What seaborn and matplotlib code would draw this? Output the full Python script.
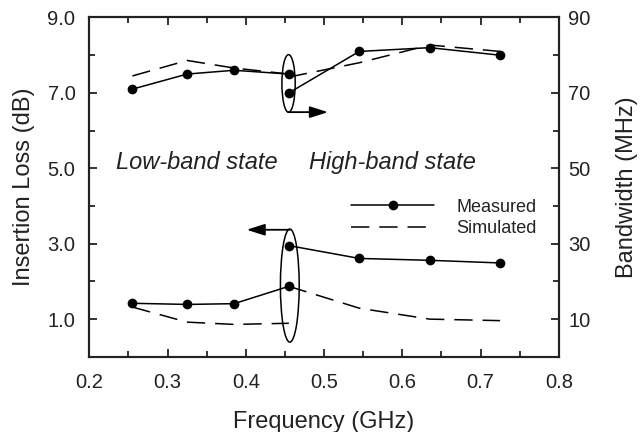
import numpy as np
import pandas as pd
import seaborn as sns
import matplotlib
matplotlib.use("Agg")
import matplotlib.pyplot as plt
from matplotlib.patches import Ellipse
from matplotlib.ticker import MultipleLocator
from matplotlib.lines import Line2D

# ---------------- data ----------------
freq_low = [0.255, 0.325, 0.385, 0.455]
freq_high = [0.455, 0.545, 0.635, 0.725]

# Insertion loss (dB), left axis
il_meas_low = [1.42, 1.39, 1.41, 1.87]
il_meas_high = [2.95, 2.61, 2.56, 2.49]
il_sim_low = [1.32, 0.92, 0.86, 0.89]
il_sim_high = [1.87, 1.29, 1.00, 0.96]

# Bandwidth (MHz), right axis
bw_meas_low = [71, 75, 76, 75]
bw_meas_high = [70, 81, 82, 80]
bw_sim_low = [74.5, 78.6, 76.6, 75.0]
bw_sim_high = [74.2, 78.0, 82.7, 81.0]

x_ticks = [0.2, 0.3, 0.4, 0.5, 0.6, 0.7, 0.8]
il_ticks = [1.0, 3.0, 5.0, 7.0, 9.0]
bw_ticks = [10, 30, 50, 70, 90]

# ---------------- style ----------------
sns.set_style("ticks")
plt.rcParams['font.family'] = ['Liberation Sans', 'DejaVu Sans']
plt.rcParams['axes.linewidth'] = 1.5

fig = plt.figure(figsize=(6.43, 4.32), dpi=100)
ax = fig.add_axes([0.139, 0.174, 0.730, 0.7855])
ax2 = ax.twinx()

LW = 1.1
DASH = (0, (12, 6.5))
TXT = "#222222"

def draw(axis, xs, ys, meas):
    df = pd.DataFrame({"x": xs, "y": ys})
    if meas:
        sns.lineplot(data=df, x="x", y="y", ax=axis, color="black", lw=LW,
                     marker="o", markersize=7, markeredgewidth=0, sort=False,
                     estimator=None)
    else:
        sns.lineplot(data=df, x="x", y="y", ax=axis, color="black", lw=LW,
                     linestyle=DASH, sort=False, estimator=None)

draw(ax, freq_low, il_meas_low, True)
draw(ax, freq_high, il_meas_high, True)
draw(ax, freq_low, il_sim_low, False)
draw(ax, freq_high, il_sim_high, False)

draw(ax2, freq_low, bw_meas_low, True)
draw(ax2, freq_high, bw_meas_high, True)
draw(ax2, freq_low, bw_sim_low, False)
draw(ax2, freq_high, bw_sim_high, False)

# axes ranges / ticks
ax.set_xlim(0.2, 0.8)
ax.set_ylim(0, 9)
ax2.set_ylim(0, 90)
ax.set_xticks(x_ticks)
ax.set_xticklabels([f"{v:.1f}" for v in x_ticks])
ax.xaxis.set_minor_locator(MultipleLocator(0.05))
ax.set_yticks(il_ticks)
ax.set_yticklabels([f"{v:.1f}" for v in il_ticks])
ax.yaxis.set_minor_locator(MultipleLocator(1.0))
ax2.set_yticks(bw_ticks)
ax2.set_yticklabels([str(v) for v in bw_ticks])
ax2.yaxis.set_minor_locator(MultipleLocator(10))

for a in (ax, ax2):
    for s in a.spines.values():
        s.set_visible(True)
        s.set_linewidth(1.5)
        s.set_color(TXT)

ax.tick_params(axis="both", which="both", direction="in", width=1.3, top=True,
               colors=TXT, labelcolor=TXT)
ax.tick_params(axis="both", which="major", length=6, labelsize=14.5)
ax.tick_params(axis="both", which="minor", length=4.5)
ax.tick_params(axis="x", which="major", pad=12)
ax.tick_params(axis="y", which="major", pad=10)
ax.tick_params(axis="x", which="both", top=True, labeltop=False)
ax2.tick_params(axis="y", which="both", direction="in", width=1.3,
                colors=TXT, labelcolor=TXT)
ax2.tick_params(axis="y", which="major", length=6, labelsize=14.5, pad=7)
ax2.tick_params(axis="y", which="minor", length=4.5)

ax.set_xlabel("Frequency (GHz)", fontsize=17, color=TXT, labelpad=13)
ax.set_ylabel("Insertion Loss (dB)", fontsize=17, color=TXT, labelpad=9)
ax2.set_ylabel("Bandwidth (MHz)", fontsize=17, color=TXT, labelpad=18)

# annotations
ax.add_patch(Ellipse((0.4546, 7.25), 0.017, 1.53, fill=False, lw=1.1,
                     edgecolor="black", zorder=5))
ax.add_patch(Ellipse((0.4562, 1.89), 0.024, 3.0, fill=False, lw=1.1,
                     edgecolor="black", zorder=5))
arrow_kw = dict(arrowstyle="-|>,head_length=1.1,head_width=0.35", color="black",
                lw=1.3, shrinkA=0, shrinkB=0)
ax.annotate("", xy=(0.505, 6.49), xytext=(0.4545, 6.49), arrowprops=arrow_kw)
ax.annotate("", xy=(0.401, 3.37), xytext=(0.4562, 3.37), arrowprops=arrow_kw)

ax.text(0.2345, 5.15, "Low-band state", fontsize=17, style="italic",
        va="center", ha="left", color=TXT)
ax.text(0.4805, 5.15, "High-band state", fontsize=17, style="italic",
        va="center", ha="left", color=TXT)

# legend
handles = [Line2D([], [], color="black", lw=LW, marker="o", markersize=7,
                  markeredgewidth=0),
           Line2D([], [], color="black", lw=LW, linestyle=DASH)]
ax2.legend(handles, ["Measured", "Simulated"], frameon=False, fontsize=13,
           loc="upper left", bbox_to_anchor=(0.558, 0.466), borderpad=0,
           borderaxespad=0, handlelength=4.6, handletextpad=1.2,
           labelspacing=0.25, labelcolor=TXT)

fig.savefig("out.png", dpi=100)
